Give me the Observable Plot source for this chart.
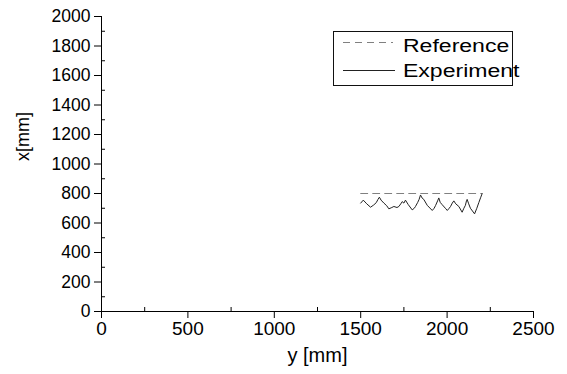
<!DOCTYPE html>
<html>
<head>
<meta charset="utf-8">
<script src="https://cdn.jsdelivr.net/npm/d3@7"></script>
<script src="https://cdn.jsdelivr.net/npm/@observablehq/plot@0.6"></script>
<style>
  html, body { margin: 0; padding: 0; background: #fff; }
  #wrap { position: relative; width: 567px; height: 374px; font-family: "Liberation Sans", Arial, sans-serif; }
  #legend { position: absolute; left: 0; top: 0; pointer-events: none; }
</style>
</head>
<body>
<div id="wrap"></div>
<script>
// ---- data ----
const xMajorTicks = [0, 500, 1000, 1500, 2000, 2500];
const xMinorTicks = [250, 750, 1250, 1750, 2250];
const yMajorTicks = [0, 200, 400, 600, 800, 1000, 1200, 1400, 1600, 1800, 2000];
const yMinorTicks = [100, 300, 500, 700, 900, 1100, 1300, 1500, 1700, 1900];

const refX = [1500, 2200];
const refY = [800, 800];

const expX = [1500, 1515, 1535, 1557, 1575, 1590, 1600, 1608, 1618, 1634, 1650, 1663, 1680, 1692, 1710, 1721,
              1735, 1740, 1750, 1759, 1775, 1798, 1810, 1817, 1830, 1838, 1846, 1855, 1865, 1885, 1914, 1925,
              1933, 1945, 1952, 1960, 1971, 1990, 2001, 2012, 2020, 2030, 2039, 2050, 2068, 2087, 2097, 2106,
              2112, 2116, 2125, 2135, 2159, 2172, 2184, 2195, 2203];
const expY = [735, 755, 730, 707, 722, 738, 760, 775, 755, 735, 718, 696, 705, 712, 705, 712,
              735, 745, 735, 755, 725, 689, 700, 712, 740, 760, 790, 770, 760, 720, 685, 700,
              718, 750, 770, 740, 725, 700, 685, 700, 712, 735, 750, 730, 712, 673, 700, 720,
              750, 760, 730, 700, 662, 700, 740, 775, 800];

const seriesNames = ["Reference", "Experiment"];

const refData = refX.map((x, i) => ({x, y: refY[i]}));
const expData = expX.map((x, i) => ({x, y: expY[i]}));

const fmt = d3.format("d");

const chart = Plot.plot({
  width: 567,
  height: 374,
  marginLeft: 101,
  marginRight: 34,
  marginTop: 16,
  marginBottom: 63,
  style: {fontFamily: "'Liberation Sans', Arial, sans-serif", background: "white", color: "black"},
  x: {domain: [0, 2500]},
  y: {domain: [0, 2000]},
  marks: [
    Plot.axisX(xMajorTicks, {tickSize: 7, tickPadding: 3, fontSize: 19, tickFormat: fmt, label: null}),
    Plot.axisX(xMinorTicks, {tickSize: 4, dy: -4, tickFormat: () => "", label: null}),
    Plot.axisY(yMajorTicks, {tickSize: 7, tickPadding: 4, fontSize: 17.5, tickFormat: fmt, label: null}),
    Plot.axisY(yMinorTicks, {tickSize: 4, dx: 4, tickFormat: () => "", label: null}),
    Plot.ruleX([0], {stroke: "black"}),
    Plot.ruleY([0], {stroke: "black"}),
    Plot.text(["y [mm]"], {frameAnchor: "bottom", dy: 50, fontSize: 20, fill: "black"}),
    Plot.text(["x[mm]"], {frameAnchor: "left", dx: -78, dy: -3, rotate: -90, fontSize: 18, fill: "black"}),
    Plot.line(refData, {x: "x", y: "y", stroke: "#808080", strokeWidth: 1, strokeDasharray: "7,5"}),
    Plot.line(expData, {x: "x", y: "y", stroke: "#222", strokeWidth: 1})
  ]
});

const wrap = document.getElementById("wrap");
wrap.appendChild(chart);

// ---- legend (custom, for dash styles) ----
const ns = "http://www.w3.org/2000/svg";
const lg = document.createElementNS(ns, "svg");
lg.setAttribute("id", "legend");
lg.setAttribute("width", 567);
lg.setAttribute("height", 374);
lg.innerHTML = `
  <rect x="333.5" y="31.5" width="179" height="54" fill="white" stroke="#111" stroke-width="1"/>
  <line x1="343" x2="393" y1="42.5" y2="42.5" stroke="#808080" stroke-width="1" stroke-dasharray="7,5"/>
  <line x1="343" x2="395" y1="70.5" y2="70.5" stroke="#222" stroke-width="1"/>
  <text transform="translate(403,51.5) scale(1.28,1)" font-size="18" font-family="'Liberation Sans', Arial, sans-serif" fill="black">${seriesNames[0]}</text>
  <text transform="translate(403,76.5) scale(1.28,1)" font-size="18" font-family="'Liberation Sans', Arial, sans-serif" fill="black">${seriesNames[1]}</text>
`;
wrap.appendChild(lg);
</script>
</body>
</html>
